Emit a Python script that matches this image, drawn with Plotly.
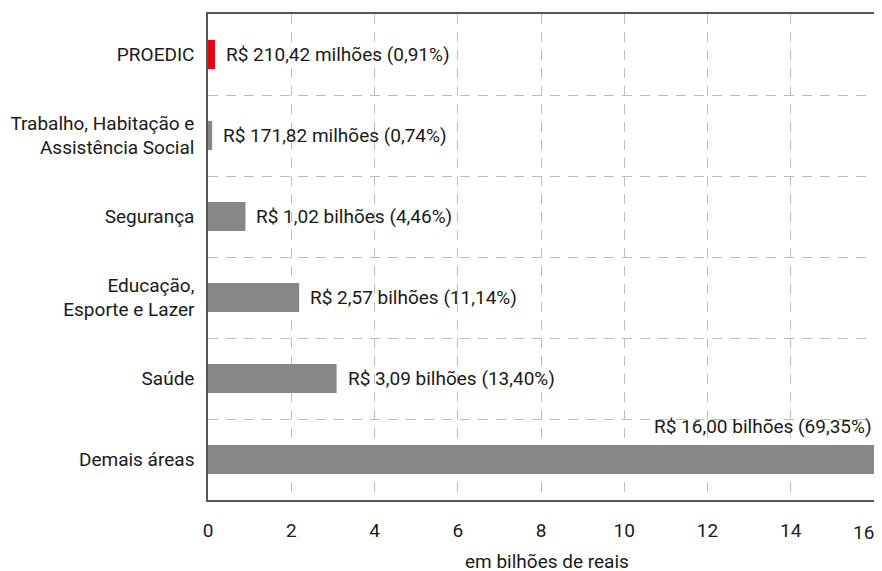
import plotly.graph_objects as go

categories = ["Demais áreas", "Saúde", "Educação,<br>Esporte e Lazer", "Segurança",
              "Trabalho, Habitação e<br>Assistência Social", "PROEDIC"]
bar_values = [16.0, 3.09, 2.19, 0.9, 0.10, 0.17]
labels = ["R$ 16,00 bilhões (69,35%)", "R$ 3,09 bilhões (13,40%)", "R$ 2,57 bilhões (11,14%)",
          "R$ 1,02 bilhões (4,46%)", "R$ 171,82 milhões (0,74%)", "R$ 210,42 milhões (0,91%)"]
colors = ["#878787", "#878787", "#878787", "#878787", "#878787", "#e30613"]
x_ticks = [0, 2, 4, 6, 8, 10, 12, 14, 16]
x_title = "em bilhões de reais"

FONT = "Roboto"
FS = 19
TXT = "#1a1a1a"

fig = go.Figure()
fig.add_trace(go.Bar(
    x=bar_values, y=categories, orientation="h",
    marker=dict(color=colors, line=dict(width=0)),
    width=0.36, hoverinfo="skip",
))

annotations = []
for i, (cat, v, lab) in enumerate(zip(categories, bar_values, labels)):
    if i == 0:
        annotations.append(dict(x=v, y=cat, text=lab, showarrow=False, xanchor="right",
                                yanchor="middle", xshift=0, yshift=33,
                                font=dict(family=FONT, size=FS, color=TXT)))
    else:
        annotations.append(dict(x=v, y=cat, text=lab, showarrow=False, xanchor="left",
                                yanchor="middle", xshift=9,
                                font=dict(family=FONT, size=FS, color=TXT)))

# last x tick label drawn right-aligned so it stays inside the page
annotations.append(dict(x=x_ticks[-1], y=0, yref="paper", text=str(x_ticks[-1]),
                        showarrow=False, xanchor="right", yanchor="top", yshift=-19,
                        xshift=2, font=dict(family=FONT, size=FS, color=TXT)))
# x-axis title
annotations.append(dict(x=0.5, xref="paper", y=0, yref="paper", text=x_title,
                        showarrow=False, xanchor="center", yanchor="middle",
                        xshift=6, yshift=-61, font=dict(family=FONT, size=FS, color=TXT)))

fig.update_layout(
    width=874, height=563,
    margin=dict(l=200, r=8, t=6, b=71),
    paper_bgcolor="white", plot_bgcolor="white",
    showlegend=False,
    font=dict(family=FONT, size=FS, color=TXT),
    annotations=annotations,
    xaxis=dict(
        range=[0, 16], tickvals=x_ticks,
        ticktext=[str(t) for t in x_ticks[:-1]] + [""],
        showgrid=True, gridcolor="#bdbdbd", gridwidth=1, griddash="10px,8px",
        zeroline=False, showline=True, linecolor="#555555", linewidth=1.5, mirror=True,
        ticks="", ticklabelstandoff=12, automargin=False,
        tickfont=dict(family=FONT, size=FS, color=TXT),
    ),
    yaxis=dict(
        type="category", categoryorder="array", categoryarray=categories,
        tickson="boundaries", showgrid=True, gridcolor="#bdbdbd", gridwidth=1,
        griddash="10px,8px", zeroline=False, showline=True, linecolor="#555555",
        linewidth=1.5, mirror=True, ticks="", ticklabelstandoff=8, automargin=False,
        tickfont=dict(family=FONT, size=FS, color=TXT),
    ),
)

fig.write_html("out.html")
